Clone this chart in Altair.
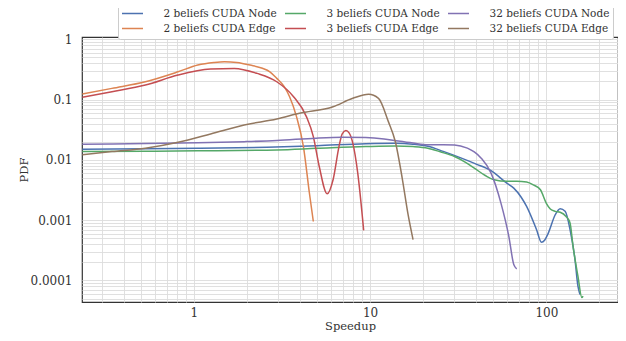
import altair as alt
import pandas as pd

# ---- data (x = speedup, y = PDF) ----
node2_x = [0.233, 0.531, 1.053, 2.598, 5.0, 9.436, 13.9, 17.5, 21.27, 26.0, 32.98, 40.0,
           48.57, 59.69, 65.34, 72.0, 77.27, 87.9, 93.76, 98.0, 102.6, 112.3, 119.8,
           127.8, 136.3, 145.4, 151.1, 155.1]
node2_y = [0.0150, 0.0152, 0.0155, 0.0162, 0.0172, 0.0185, 0.0188, 0.0182, 0.0168, 0.0138,
           0.01067, 0.0085, 0.0066, 0.0041, 0.0034, 0.0024, 0.00169, 0.00070, 0.00043,
           0.00047, 0.00061, 0.00123, 0.00155, 0.0014, 0.00070, 0.000222, 0.0000805, 0.0000587]

edge2_x = [0.233, 0.343, 0.531, 0.814, 1.053, 1.3, 1.492, 1.75, 2.086, 2.45, 2.701, 2.955,
           3.25, 3.494, 3.824, 4.186, 4.523, 4.764]
edge2_y = [0.123, 0.153, 0.197, 0.288, 0.372, 0.41, 0.422, 0.41, 0.372, 0.33, 0.288, 0.224,
           0.165, 0.111, 0.052, 0.0166, 0.00285, 0.00095]

node3_x = [0.233, 0.531, 1.053, 2.955, 5.0, 9.436, 13.9, 17.5, 21.27, 25.0, 30.13, 35.0,
           39.0, 45.0, 50.49, 59.69, 68.0, 77.27, 85.0, 92.56, 100.0, 105.3, 112.3, 119.8,
           129.4, 136.3, 141.7, 151.1, 159.1, 161.5]
node3_y = [0.0137, 0.0139, 0.0141, 0.0146, 0.0155, 0.0166, 0.0170, 0.0166, 0.0156, 0.0136,
           0.01135, 0.0090, 0.00729, 0.0055, 0.00467, 0.00440, 0.00440, 0.00430, 0.0038,
           0.00319, 0.0019, 0.00153, 0.0014, 0.00135, 0.00115, 0.0009, 0.00037, 0.000118,
           0.000052, 0.000055]

edge3_x = [0.233, 0.343, 0.531, 0.814, 1.245, 1.697, 2.283, 2.955, 3.68, 4.352, 4.764,
           5.147, 5.706, 6.166, 6.661, 6.95, 7.292, 7.6, 7.98, 8.511, 9.196]
edge3_y = [0.109, 0.1345, 0.1737, 0.254, 0.319, 0.328, 0.271, 0.197, 0.1113, 0.052, 0.0243,
           0.00775, 0.00274, 0.00467, 0.0166, 0.027, 0.0305, 0.028, 0.0189, 0.00603, 0.000678]

node32_x = [0.233, 0.531, 1.053, 1.931, 2.955, 4.951, 7.0, 9.436, 12.0, 14.44, 17.5, 21.27,
            26.0, 30.13, 35.63, 39.0, 42.7, 48.57, 55.26, 61.25, 65.34, 67.91]
node32_y = [0.0182, 0.0186, 0.0192, 0.0200, 0.0209, 0.0229, 0.0236, 0.0234, 0.0222, 0.0205,
            0.0190, 0.0178, 0.0178, 0.0177, 0.0156, 0.0135, 0.01067, 0.00603, 0.00192,
            0.00054, 0.000184, 0.000156]

edge32_x = [0.233, 0.343, 0.531, 0.814, 1.245, 1.931, 2.955, 3.976, 6.166, 7.98, 9.809,
            11.16, 12.70, 13.90, 15.21, 16.43, 17.53]
edge32_y = [0.0121, 0.0137, 0.0156, 0.0196, 0.0269, 0.0379, 0.0476, 0.0591, 0.076, 0.1047,
            0.1219, 0.1047, 0.043, 0.0201, 0.00499, 0.00123, 0.000476]

# legend fills column by column (2 rows x 3 columns)
series_names = ["2 beliefs CUDA Node", "2 beliefs CUDA Edge",
                "3 beliefs CUDA Node", "3 beliefs CUDA Edge",
                "32 beliefs CUDA Node", "32 beliefs CUDA Edge"]
series_colors = ["#4C72B0", "#DD8452", "#55A868", "#C44E52", "#8172B3", "#937860"]
series_data = [(node2_x, node2_y), (edge2_x, edge2_y), (node3_x, node3_y),
               (edge3_x, edge3_y), (node32_x, node32_y), (edge32_x, edge32_y)]

x_grid = [0.3, 0.4, 0.5, 0.6, 0.7, 0.8, 0.9, 1, 2, 3, 4, 5, 6, 7, 8, 9,
          10, 20, 30, 40, 50, 60, 70, 80, 90, 100, 200]
y_grid = [5e-5, 6e-5, 7e-5, 8e-5, 9e-5,
          1e-4, 2e-4, 3e-4, 4e-4, 5e-4, 6e-4, 7e-4, 8e-4, 9e-4,
          1e-3, 2e-3, 3e-3, 4e-3, 5e-3, 6e-3, 7e-3, 8e-3, 9e-3,
          0.01, 0.02, 0.03, 0.04, 0.05, 0.06, 0.07, 0.08, 0.09,
          0.1, 0.2, 0.3, 0.4, 0.5, 0.6, 0.7, 0.8, 0.9, 1]

rows = []
for name, (xs, ys) in zip(series_names, series_data):
    for i, (xv, yv) in enumerate(zip(xs, ys)):
        rows.append({"series": name, "x": xv, "y": yv, "order": i})
df = pd.DataFrame(rows)

label_expr = ("abs(log(datum.value)/LN10 - round(log(datum.value)/LN10)) < 0.001"
              " ? format(datum.value, '~g') : ''")

FONT = "DejaVu Serif"

chart = alt.Chart(df).mark_line(strokeWidth=1.5, interpolate="monotone", clip=True).encode(
    x=alt.X("x:Q", title="Speedup",
            scale=alt.Scale(type="log", domain=[0.232, 255], nice=False),
            axis=alt.Axis(values=x_grid, labelExpr=label_expr, labelOverlap=False,
                          labelFlush=False, ticks=False, tickSize=0, labelPadding=5,
                          titlePadding=2, domain=False)),
    y=alt.Y("y:Q", title="PDF",
            scale=alt.Scale(type="log", domain=[4.4e-5, 1.087], nice=False),
            axis=alt.Axis(values=y_grid, labelExpr=label_expr, labelOverlap=False,
                          labelFlush=False, ticks=False, tickSize=0, labelPadding=10,
                          titlePadding=1, domain=False)),
    color=alt.Color("series:N",
                    scale=alt.Scale(domain=series_names, range=series_colors),
                    legend=alt.Legend(title=None, orient="none", legendX=36, legendY=-34,
                                      columns=3, columnPadding=-3, rowPadding=0,
                                      gridAlign="all", clipHeight=15,
                                      symbolType="M-2.1,0L2.1,0", symbolSize=100,
                                      symbolOffset=5.5,
                                      symbolStrokeWidth=1.5, labelOffset=25,
                                      labelFont=FONT, labelFontSize=10.5,
                                      labelColor="#333333",
                                      padding=3, fillColor="white",
                                      strokeColor="#cccccc", cornerRadius=2)),
    detail="series:N",
    order="order:Q",
).properties(
    width=536, height=265,
    autosize=alt.AutoSizeParams(type="none"),
    padding={"left": 74, "top": 29, "right": 0, "bottom": 31},
).configure_view(
    stroke="#333333", strokeWidth=1.2
).configure_axis(
    grid=True, gridColor="#dddddd", gridWidth=0.9,
    labelFont=FONT, labelFontSize=12, labelColor="#333333",
    titleFont=FONT, titleFontSize=11.5, titleColor="#333333", titleFontWeight="normal",
)

chart.save("out.html", embed_options={"renderer": "svg", "actions": False})
